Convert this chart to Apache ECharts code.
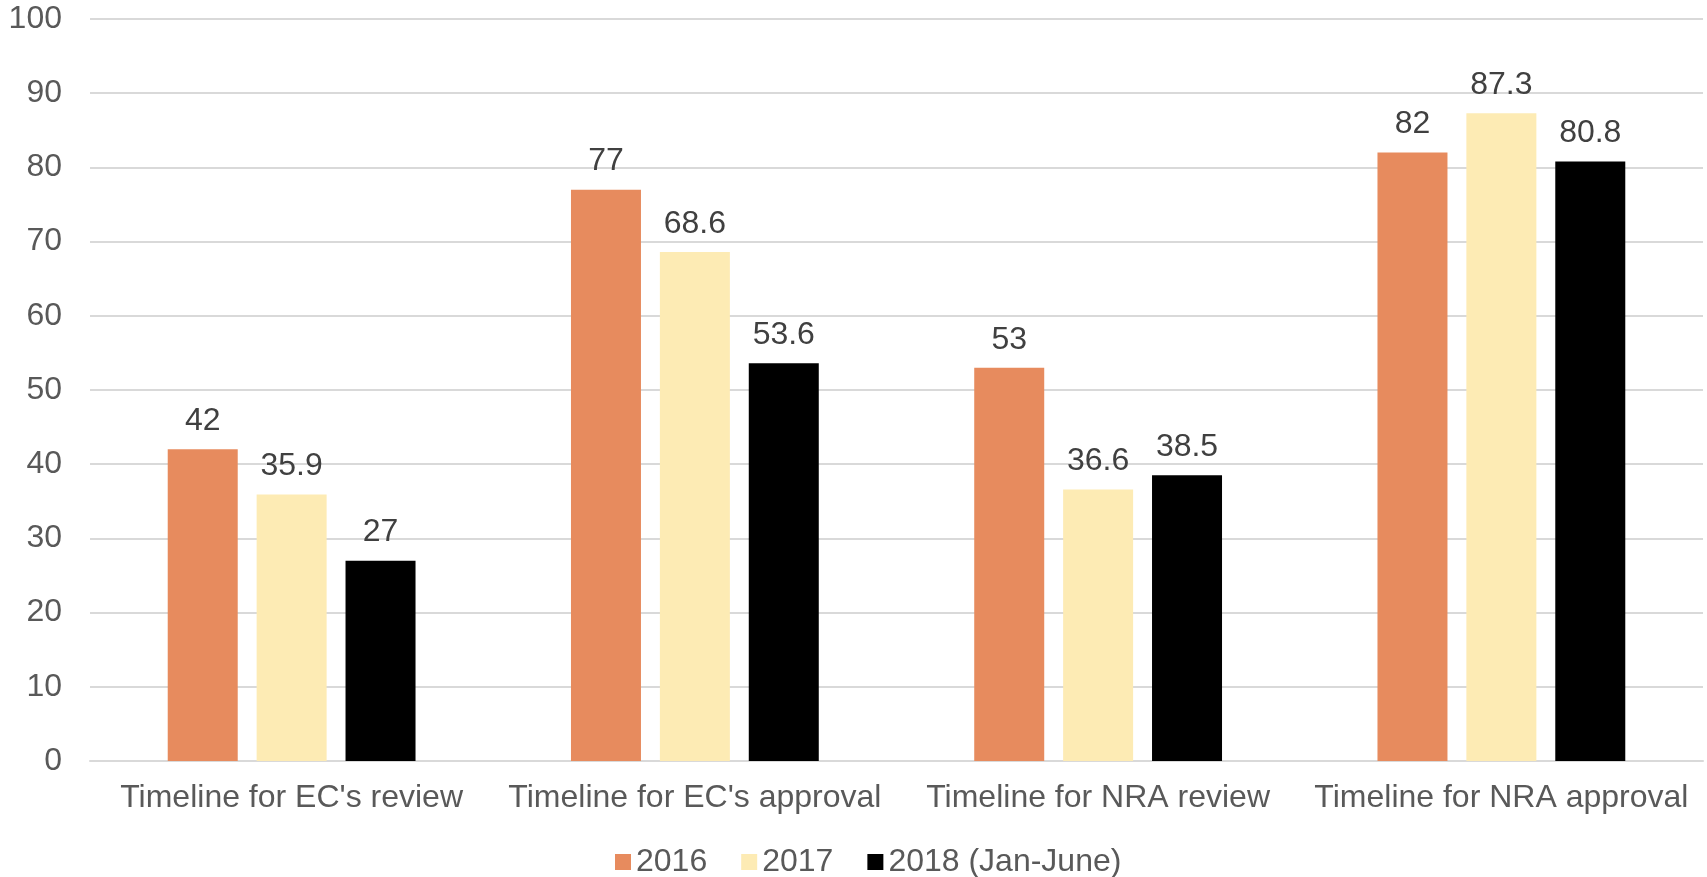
<!DOCTYPE html>
<html>
<head>
<meta charset="utf-8">
<script src="https://cdn.jsdelivr.net/npm/echarts@6/dist/echarts.min.js"></script>
<style>
html,body{margin:0;padding:0;background:#fff;}
#chart{width:1707px;height:877px;}
</style>
</head>
<body>
<div id="chart"></div>
<script>
const categories = ["Timeline for EC's review", "Timeline for EC's approval", "Timeline for NRA review", "Timeline for NRA approval"];
const seriesNames = ["2016", "2017", "2018 (Jan-June)"];
const values2016 = [42, 77, 53, 82];
const values2017 = [35.9, 68.6, 36.6, 87.3];
const values2018 = [27, 53.6, 38.5, 80.8];
const colors = ["#E78B5E", "#FDEBB4", "#000000"];

const FONT = "Liberation Sans, Arial, sans-serif";
const chart = echarts.init(document.getElementById('chart'));
const allValues = [values2016, values2017, values2018];
chart.setOption({
  animation: false,
  backgroundColor: '#fff',
  grid: { left: 90, right: 4, top: 19, bottom: 116, containLabel: false },
  legend: {
    left: 610, top: 841,
    itemWidth: 16, itemHeight: 16, itemGap: 34,
    icon: 'rect',
    textStyle: { fontFamily: FONT, fontSize: 32, color: '#595959' },
    data: seriesNames
  },
  xAxis: {
    type: 'category',
    data: categories,
    axisLine: { show: true, lineStyle: { color: '#d9d9d9', width: 2 } },
    axisTick: { show: false },
    axisLabel: { fontFamily: FONT, fontSize: 32, color: '#595959', margin: 21, interval: 0 }
  },
  yAxis: {
    type: 'value',
    min: 0, max: 100, interval: 10,
    axisLine: { show: false },
    axisTick: { show: false },
    splitLine: { lineStyle: { color: '#d9d9d9', width: 2 } },
    axisLabel: { fontFamily: FONT, fontSize: 32, color: '#595959', margin: 28 }
  },
  series: seriesNames.map((name, i) => ({
    name: name,
    type: 'bar',
    data: allValues[i],
    barWidth: 70,
    barGap: '27%',
    itemStyle: { color: colors[i] },
    label: {
      show: true, position: 'top', distance: 12,
      fontFamily: FONT, fontSize: 32, color: '#404040'
    }
  }))
});
</script>
</body>
</html>
